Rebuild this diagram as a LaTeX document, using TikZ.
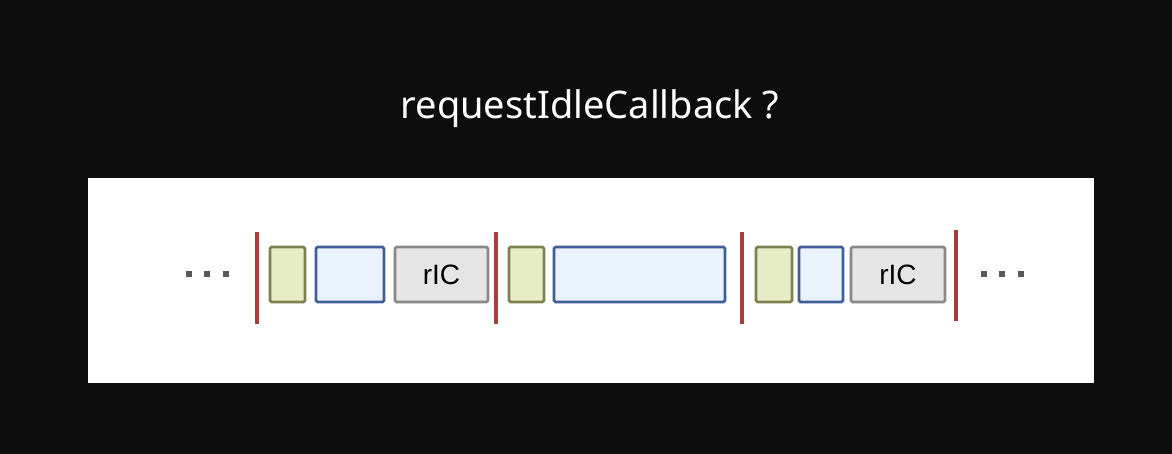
\documentclass[tikz,border=0pt]{standalone}
\usepackage{fontspec}
\setmainfont{Liberation Sans}
\newfontfamily\titlefont{Noto Sans}
\usetikzlibrary{positioning}

\definecolor{sepred}{HTML}{A3403A}
\definecolor{taskline}{HTML}{7E8050}
\definecolor{taskfill}{HTML}{E6EDC6}
\definecolor{workline}{HTML}{405F99}
\definecolor{workfill}{HTML}{EAF3FD}
\definecolor{ricline}{HTML}{888888}
\definecolor{ricfill}{HTML}{E5E5E5}

\tikzset{
  frame/.style={draw=#1line, fill=#1fill, line width=2.6pt, rounded corners=1.5pt,
    minimum height=55pt, inner sep=0pt, font=\fontsize{28}{28}\selectfont},
  sep/.style={draw=sepred, line width=3.5pt},
  dot/.style={fill=black!65, minimum size=6pt, inner sep=0pt},
}

\begin{document}
\begin{tikzpicture}[x=1pt, y=-1pt]
  \fill[black!95] (0,0) rectangle (1172,454);
  \useasboundingbox (0,0) rectangle (1172,454);
  \fill[white] (88,178) rectangle (1094,383);

  \node[white, font=\titlefont\fontsize{38}{38}\selectfont] (T) at (590,109) {requestIdleCallback ?};

  % left dots
  \node[dot] (l1) at (189,274) {};
  \node[dot, right=12pt of l1] (l2) {};
  \node[dot, right=12pt of l2] (l3) {};

  % frame 1
  \node[frame=task, minimum width=35pt] (A1) at (287.5,274.5) {};
  \node[frame=work, minimum width=68pt] (A2) at (350,274.5) {};
  \node[frame=ric, minimum width=93pt] (A3) at (441.5,274.5) {rIC};

  % frame 2
  \node[frame=task, minimum width=35pt] (B1) at (526.5,274.5) {};
  \node[frame=work, minimum width=171pt] (B2) at (639.5,274.5) {};

  % frame 3
  \node[frame=task, minimum width=36pt] (C1) at (774,274.5) {};
  \node[frame=work, minimum width=44pt] (C2) at (821,274.5) {};
  \node[frame=ric, minimum width=94pt] (C3) at (898,274.5) {rIC};

  % right dots
  \node[dot] (r1) at (984,274) {};
  \node[dot, right=12pt of r1] (r2) {};
  \node[dot, right=12pt of r2] (r3) {};

  % frame boundaries
  \draw[sep] (257,232) -- (257,324);
  \draw[sep] (496,232) -- (496,324);
  \draw[sep] (742,232) -- (742,324);
  \draw[sep] (956,230) -- (956,321);
\end{tikzpicture}
\end{document}
